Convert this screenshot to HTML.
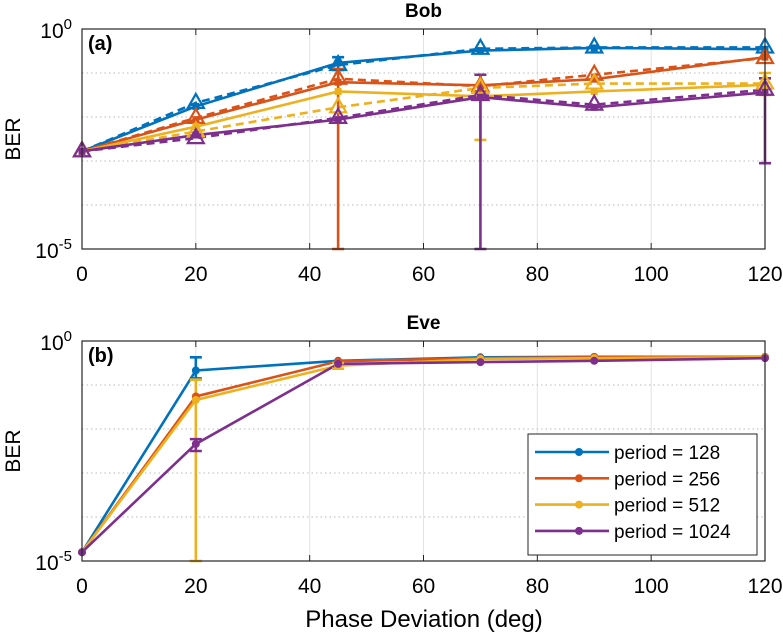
<!DOCTYPE html>
<html><head><meta charset="utf-8"><style>
body{margin:0;background:#fff;}
svg{display:block;font-family:"Liberation Sans",sans-serif;}
</style></head><body>
<svg id="c" width="783" height="633"></svg>
<script>
const xVals=[0,20,45,70,90,120];
const xTicks=[0,20,40,60,80,100,120];
const colors=['#0072BD','#D95319','#EDB120','#7E2F8E'];
const seriesNames=['period = 128','period = 256','period = 512','period = 1024'];
// Bob (log10 BER)
const bobSolid=[
 [-2.78,-1.76,-0.77,-0.49,-0.43,-0.46],
 [-2.78,-2.06,-1.21,-1.28,-1.14,-0.64],
 [-2.78,-2.22,-1.42,-1.53,-1.42,-1.27],
 [-2.78,-2.41,-2.06,-1.55,-1.78,-1.44]];
const bobDashed=[
 [-2.78,-1.68,-0.82,-0.45,-0.42,-0.42],
 [-2.78,-2.02,-1.13,-1.30,-1.04,-0.66],
 [-2.78,-2.33,-1.78,-1.34,-1.24,-1.24],
 [-2.78,-2.48,-2.02,-1.50,-1.72,-1.38]];
// error bars: [series, xIndex, low, high]
const bobErr=[[0,2,-0.93,-0.64],[1,2,-5,-0.91],[2,3,-2.52,-1.04],[2,5,-1.5,-1.0],[3,3,-5,-1.04],[3,5,-3.05,-1.12]];
// Eve
const eve=[
 [-4.8,-0.67,-0.45,-0.37,-0.36,-0.36],
 [-4.8,-1.26,-0.46,-0.39,-0.37,-0.36],
 [-4.8,-1.34,-0.56,-0.41,-0.39,-0.37],
 [-4.8,-2.34,-0.52,-0.48,-0.45,-0.39]];
const eveErr=[[0,1,-0.85,-0.37],[2,1,-5,-0.88],[3,1,-2.5,-2.23],[2,2,-0.63,-0.5]];

const svg=document.getElementById('c');
const NS='http://www.w3.org/2000/svg';
function el(t,a,p){const e=document.createElementNS(NS,t);for(const k in a)e.setAttribute(k,a[k]);(p||svg).appendChild(e);return e;}
const L=82,R=765;
const xs=v=>L+(R-L)*v/120;
function panel(top,bot,title,tag,name){
 const g=el('g',{});
 
 
 const ys=v=>top+(bot-top)*(-v)/5;
 for(const t of xTicks){const l=el('line',{x1:xs(t),x2:xs(t),y1:top,y2:bot,stroke:'#e3e3e3','stroke-width':1},g);
  const tk=el('path',{d:`M${xs(t)},${top}v6M${xs(t)},${bot}v-6`,stroke:'#262626','stroke-width':1},g);
  const tx=el('text',{x:xs(t),y:bot+32,'text-anchor':'middle','font-size':21},g);tx.textContent=t;}
 for(let d=-1;d>=-4;d--){const l=el('line',{x1:L,x2:R,y1:ys(d),y2:ys(d),stroke:'#bbb','stroke-width':1,'stroke-dasharray':'1.5,3'},g);}
 const yl=[[0,'0'],[-5,'-5']];
 for(const [v,s] of yl){const tx=el('text',{x:L-10,y:ys(v)+9,'text-anchor':'end','font-size':21},g);tx.innerHTML='10<tspan dy="-9" font-size="15">'+s+'</tspan>';}
 const yt=el('text',{x:20,y:(top+bot)/2,'text-anchor':'middle','font-size':21,transform:`rotate(-90 20 ${(top+bot)/2})`},g);yt.textContent='BER';
 const tt=el('text',{x:(L+R)/2,y:top-12,'text-anchor':'middle','font-size':19,'font-weight':'bold'},g);tt.textContent=title;
 const tg=el('text',{x:L+6,y:top+21,'font-size':20,'font-weight':'bold'},g);tg.textContent=tag;
 return {g,ys,frame:()=>{const r=el('rect',{x:L,y:top,width:R-L,height:bot-top,fill:'none',stroke:'#262626','stroke-width':1.2},g);}};
}
function line(g,ys,vals,col,dash,name){
 const p=el('polyline',{points:vals.map((v,i)=>xs(xVals[i])+','+ys(v)).join(' '),fill:'none',stroke:col,'stroke-width':2.6,'stroke-dasharray':dash||''},g);
 
}
function err(g,ys,s,i,lo,hi){
 const x=xs(xVals[i]);const c=colors[s];
 const l=el('path',{d:`M${x},${ys(lo)}V${ys(hi)}M${x-6},${ys(lo)}H${x+6}M${x-6},${ys(hi)}H${x+6}`,stroke:c,'stroke-width':2.6,fill:'none'},g);
 
}
// Bob
const A=panel(29,249,'Bob','(a)','bob-panel');
for(let s=0;s<4;s++){
 line(A.g,A.ys,bobSolid[s],colors[s],'','bob-line-solid');
 line(A.g,A.ys,bobDashed[s],colors[s],'8,5','bob-line-dashed');
}
for(const e of bobErr)err(A.g,A.ys,...e);
for(let s=0;s<4;s++){
 bobSolid[s].forEach((v,i)=>{const m=el('rect',{x:xs(xVals[i])-3.5,y:A.ys(v)-3.5,width:7,height:7,fill:colors[s]},A.g);});
 bobDashed[s].forEach((v,i)=>{const x=xs(xVals[i]),y=A.ys(v);const m=el('polygon',{points:`${x},${y-9} ${x-8},${y+5} ${x+8},${y+5}`,fill:'none',stroke:colors[s],'stroke-width':2.2},A.g);});
}
A.frame();
// Eve
const B=panel(341,561,'Eve','(b)','eve-panel');
for(let s=0;s<4;s++)line(B.g,B.ys,eve[s],colors[s],'','eve-line');
for(const e of eveErr)err(B.g,B.ys,...e);
for(let s=0;s<4;s++)eve[s].forEach((v,i)=>{const m=el('circle',{cx:xs(xVals[i]),cy:B.ys(v),r:4,fill:colors[s]},B.g);});
B.frame();
// legend
const lg=el('g',{});


el('rect',{x:528,y:434,width:229,height:121,fill:'#fff',stroke:'#262626','stroke-width':1},lg);
for(let s=0;s<4;s++){
 const y=452+s*26.3;
 const e=el('g',{},lg);
 
 
 el('line',{x1:535,x2:609,y1:y,y2:y,stroke:colors[s],'stroke-width':2.6},e);
 el('circle',{cx:579,cy:y,r:4,fill:colors[s]},e);
 const t=el('text',{x:614,y:y+7,'font-size':19},e);t.textContent=seriesNames[s];
}
const xt=el('text',{x:424,y:627,'text-anchor':'middle','font-size':24});
xt.textContent='Phase Deviation (deg)';


</script>
</body></html>
